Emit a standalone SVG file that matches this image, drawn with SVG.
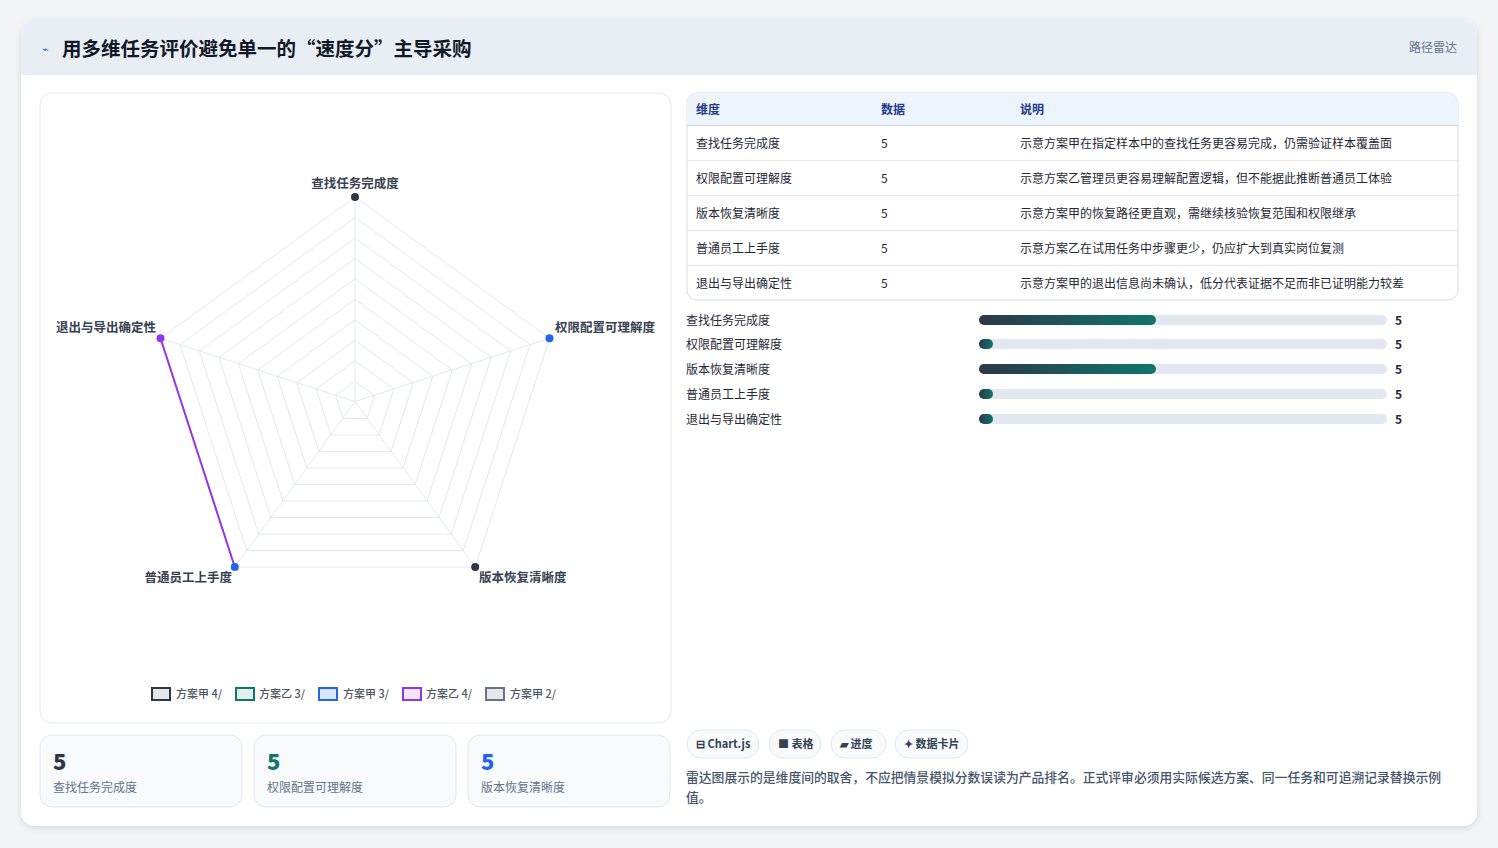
<svg xmlns="http://www.w3.org/2000/svg" width="1498" height="848" viewBox="0 0 1498 848">
<style>
text{font-family:"Noto Sans CJK SC","Liberation Sans",sans-serif;}
.h{font-size:19.5px;font-weight:700;fill:#111827}
.lab{font-size:12.5px;font-weight:700;fill:#374151}
.th{font-size:12px;font-weight:700;fill:#1e3a8a}
.td{font-size:12px;fill:#1f2937}
.grid{fill:none;stroke:#e2e8f0;stroke-width:1}
.leg{font-size:11px;fill:#4b5563;font-weight:500}
.sv{font-size:22px;font-weight:800}
.sl{font-size:12px;fill:#64748b}
.chip{fill:#f8fafc;stroke:#e2e8f0}
.ct{font-size:11px;font-weight:600;fill:#334155}
.track{fill:#e2e8f0}
</style>
<defs>
<linearGradient id="bg" x1="0" x2="1"><stop offset="0" stop-color="#2d3748"/><stop offset="1" stop-color="#0f766e"/></linearGradient>
<filter id="sh" x="-5%" y="-5%" width="110%" height="110%"><feDropShadow dx="0" dy="2" stdDeviation="3" flood-color="#000" flood-opacity="0.12"/></filter>
</defs>
<rect width="1498" height="848" fill="#f3f4f6"/>
<g id="card">
<rect x="21" y="20" width="1456" height="806" rx="14" fill="#fff" filter="url(#sh)"/>
<path d="M21 75 V34 a14 14 0 0 1 14 -14 H1463 a14 14 0 0 1 14 14 V75 Z" fill="#e9eef5"/>
<text x="42" y="53" font-size="11" fill="#2563eb">⌁</text>
<text x="62" y="56" class="h">用多维任务评价避免单一的“速度分”主导采购</text>
<text x="1457" y="52" font-size="12" fill="#64748b" text-anchor="end">路径雷达</text>
</g>
<g id="radar">
<rect x="40" y="93" width="631" height="630" rx="12" fill="#fff" stroke="#e2e8f0"/>
<g class="grid">
<polygon points="355,197 549.5,338.3 475.2,567 234.8,567 160.5,338.3"/>
<polygon points="355,217.5 530,344.7 463.2,550.5 246.8,550.5 180,344.7"/>
<polygon points="355,238 510.6,351 451.2,534 258.8,534 199.4,351"/>
<polygon points="355,258.4 491.1,357.4 439.1,517.5 270.9,517.5 218.9,357.4"/>
<polygon points="355,278.9 471.7,363.8 427.1,501 282.9,501 238.3,363.8"/>
<polygon points="355,299.4 452.3,370.1 415.1,484.5 294.9,484.5 257.7,370.1"/>
<polygon points="355,319.8 432.8,376.4 403.1,468 306.9,468 277.2,376.4"/>
<polygon points="355,340.3 413.4,382.8 391.1,451.5 318.9,451.5 296.6,382.8"/>
<polygon points="355,360.8 393.9,389.1 379,435 331,435 316.1,389.1"/>
<polygon points="355,381.2 374.5,395.5 367,418.5 343,418.5 335.5,395.5"/>
<line x1="355" y1="401.5" x2="355" y2="197"/>
<line x1="355" y1="401.5" x2="549.5" y2="338.3"/>
<line x1="355" y1="401.5" x2="475.2" y2="567"/>
<line x1="355" y1="401.5" x2="234.8" y2="567"/>
<line x1="355" y1="401.5" x2="160.5" y2="338.3"/>
</g>
<line x1="160.5" y1="338.3" x2="234.8" y2="567" stroke="#9333ea" stroke-width="2"/>
<circle cx="355" cy="197" r="4" fill="#2d3748"/>
<circle cx="549.5" cy="338.3" r="4" fill="#2563eb"/>
<circle cx="475.2" cy="567" r="4" fill="#2d3748"/>
<circle cx="234.8" cy="567" r="4" fill="#2563eb"/>
<circle cx="160.5" cy="338.3" r="4" fill="#9333ea"/>
<text x="355" y="188" class="lab" text-anchor="middle">查找任务完成度</text>
<text x="555" y="332" class="lab">权限配置可理解度</text>
<text x="479" y="582" class="lab">版本恢复清晰度</text>
<text x="232" y="582" class="lab" text-anchor="end">普通员工上手度</text>
<text x="156" y="332" class="lab" text-anchor="end">退出与导出确定性</text>
<g>
<rect x="152" y="688" width="18" height="12" fill="#e5e7eb" stroke="#2d3748" stroke-width="2"/><text x="176" y="698" class="leg">方案甲 4/</text>
<rect x="236" y="688" width="18" height="12" fill="#e0efec" stroke="#0f766e" stroke-width="2"/><text x="259" y="698" class="leg">方案乙 3/</text>
<rect x="319" y="688" width="18" height="12" fill="#dbe6fb" stroke="#2563eb" stroke-width="2"/><text x="343" y="698" class="leg">方案甲 3/</text>
<rect x="403" y="688" width="18" height="12" fill="#f1e4fb" stroke="#9333ea" stroke-width="2"/><text x="426" y="698" class="leg">方案乙 4/</text>
<rect x="486" y="688" width="18" height="12" fill="#e5e7eb" stroke="#64748b" stroke-width="2"/><text x="510" y="698" class="leg">方案甲 2/</text>
</g>
</g>
<g id="stat1"><rect x="40" y="735" width="202" height="72" rx="12" fill="#f8fafc" stroke="#e2e8f0"/><text x="53" y="770" class="sv" fill="#2d3748">5</text><text x="53" y="792" class="sl">查找任务完成度</text></g>
<g id="stat2"><rect x="254" y="735" width="202" height="72" rx="12" fill="#f8fafc" stroke="#e2e8f0"/><text x="267" y="770" class="sv" fill="#0f766e">5</text><text x="267" y="792" class="sl">权限配置可理解度</text></g>
<g id="stat3"><rect x="468" y="735" width="202" height="72" rx="12" fill="#f8fafc" stroke="#e2e8f0"/><text x="481" y="770" class="sv" fill="#2563eb">5</text><text x="481" y="792" class="sl">版本恢复清晰度</text></g>
<g id="table">
<rect x="687" y="93" width="771" height="207" rx="10" fill="#fff" stroke="#d6dee8"/>
<path d="M687 125 V103 a10 10 0 0 1 10 -10 H1448 a10 10 0 0 1 10 10 V125 Z" fill="#eef4fc"/>
<g stroke="#e5e7eb"><line x1="687" y1="125.5" x2="1458" y2="125.5" stroke="#cbd5e1"/><line x1="687" y1="160.5" x2="1458" y2="160.5"/><line x1="687" y1="195.5" x2="1458" y2="195.5"/><line x1="687" y1="230.5" x2="1458" y2="230.5"/><line x1="687" y1="265.5" x2="1458" y2="265.5"/></g>
<text x="696" y="114" class="th">维度</text><text x="881" y="114" class="th">数据</text><text x="1020" y="114" class="th">说明</text>
<text x="696" y="148" class="td">查找任务完成度</text><text x="881" y="148" class="td">5</text><text x="1020" y="148" class="td">示意方案甲在指定样本中的查找任务更容易完成，仍需验证样本覆盖面</text>
<text x="696" y="183" class="td">权限配置可理解度</text><text x="881" y="183" class="td">5</text><text x="1020" y="183" class="td">示意方案乙管理员更容易理解配置逻辑，但不能据此推断普通员工体验</text>
<text x="696" y="218" class="td">版本恢复清晰度</text><text x="881" y="218" class="td">5</text><text x="1020" y="218" class="td">示意方案甲的恢复路径更直观，需继续核验恢复范围和权限继承</text>
<text x="696" y="253" class="td">普通员工上手度</text><text x="881" y="253" class="td">5</text><text x="1020" y="253" class="td">示意方案乙在试用任务中步骤更少，仍应扩大到真实岗位复测</text>
<text x="696" y="288" class="td">退出与导出确定性</text><text x="881" y="288" class="td">5</text><text x="1020" y="288" class="td">示意方案甲的退出信息尚未确认，低分代表证据不足而非已证明能力较差</text>
</g>
<g id="bars">
<text x="686" y="325" class="td">查找任务完成度</text><rect x="979" y="315" width="408" height="10" rx="5" class="track"/><rect x="979" y="315" width="177" height="10" rx="5" fill="url(#bg)"/><text x="1395" y="325" class="td" font-weight="700">5</text>
<text x="686" y="349" class="td">权限配置可理解度</text><rect x="979" y="339" width="408" height="10" rx="5" class="track"/><rect x="979" y="339" width="14" height="10" rx="5" fill="url(#bg)"/><text x="1395" y="349" class="td" font-weight="700">5</text>
<text x="686" y="374" class="td">版本恢复清晰度</text><rect x="979" y="364" width="408" height="10" rx="5" class="track"/><rect x="979" y="364" width="177" height="10" rx="5" fill="url(#bg)"/><text x="1395" y="374" class="td" font-weight="700">5</text>
<text x="686" y="399" class="td">普通员工上手度</text><rect x="979" y="389" width="408" height="10" rx="5" class="track"/><rect x="979" y="389" width="14" height="10" rx="5" fill="url(#bg)"/><text x="1395" y="399" class="td" font-weight="700">5</text>
<text x="686" y="424" class="td">退出与导出确定性</text><rect x="979" y="414" width="408" height="10" rx="5" class="track"/><rect x="979" y="414" width="14" height="10" rx="5" fill="url(#bg)"/><text x="1395" y="424" class="td" font-weight="700">5</text>
</g>
<g id="chips">
<rect x="687" y="730" width="72" height="28" rx="14" class="chip"/><text x="696" y="748" class="ct">⊟ Chart.js</text>
<rect x="769" y="730" width="52" height="28" rx="14" class="chip"/><text x="778" y="748" class="ct">■ 表格</text>
<rect x="831" y="730" width="55" height="28" rx="14" class="chip"/><text x="840" y="748" class="ct">▰ 进度</text>
<rect x="895" y="730" width="73" height="28" rx="14" class="chip"/><text x="904" y="748" class="ct">✦ 数据卡片</text>
</g>
<text x="686" y="782" font-size="12.8" fill="#475569" font-weight="500">雷达图展示的是维度间的取舍，不应把情景模拟分数误读为产品排名。正式评审必须用实际候选方案、同一任务和可追溯记录替换示例</text>
<text x="686" y="802" font-size="12.8" fill="#475569" font-weight="500">值。</text>
</svg>
